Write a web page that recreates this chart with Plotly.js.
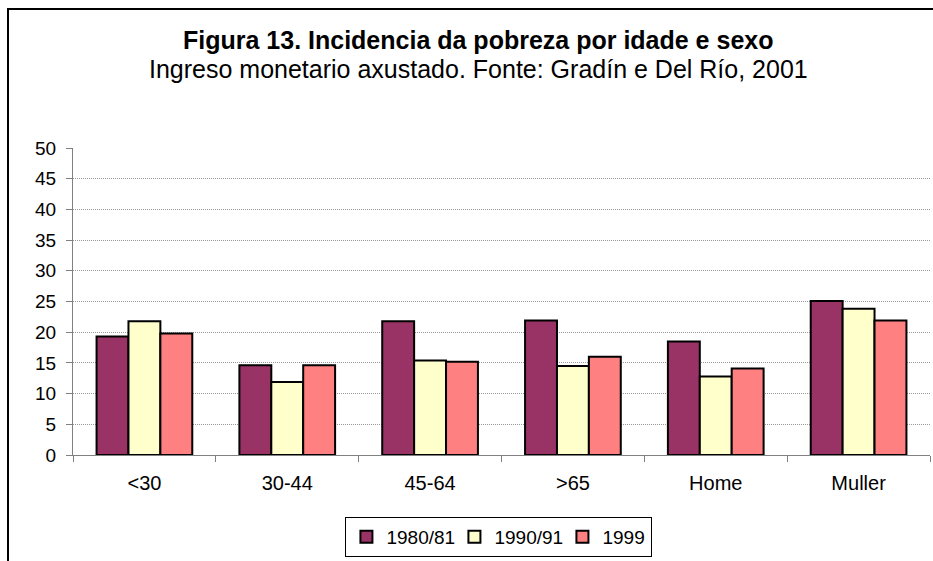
<!DOCTYPE html>
<html>
<head>
<meta charset="utf-8">
<script src="https://cdn.plot.ly/plotly-3.0.1.min.js"></script>
<style>
html,body{margin:0;padding:0;background:#fff;overflow:hidden;}
#chart{width:933px;height:561px;position:absolute;left:0;top:0;}
#frame{position:absolute;left:7px;top:8px;width:2000px;height:2000px;border-left:2px solid #000;border-top:2px solid #000;pointer-events:none;}
</style>
</head>
<body>
<div id="chart"></div>
<div id="frame"></div>
<script>
const categories = ['<30', '30-44', '45-64', '>65', 'Home', 'Muller'];
const seriesNames = ['1980/81', '1990/91', '1999'];
const v1980 = [19.3, 14.6, 21.8, 21.9, 18.5, 25.1];
const v1990 = [21.8, 11.9, 15.4, 14.5, 12.8, 23.8];
const v1999 = [19.8, 14.6, 15.2, 16.0, 14.1, 21.9];
const yTicks = [0, 5, 10, 15, 20, 25, 30, 35, 40, 45, 50];

const colors = ['#993366', '#FFFFCC', '#FF8080'];
const legendWidths = [63, 63, 44];
const values = [v1980, v1990, v1999];
const font = 'Arial, "Liberation Sans", sans-serif';

const traces = values.map((vals, i) => ({
  type: 'bar',
  name: seriesNames[i],
  x: categories,
  y: vals,
  legendwidth: legendWidths[i],
  marker: {color: colors[i], line: {color: '#000', width: 2}},
  hoverinfo: 'x+y+name'
}));

const layout = {
  width: 933, height: 561,
  margin: {l: 73, r: 3, t: 148, b: 106, autoexpand: false},
  paper_bgcolor: '#fff', plot_bgcolor: '#fff',
  barmode: 'group',
  bargap: 0.33,
  bargroupgap: 0,
  showlegend: true,
  font: {family: font, size: 20, color: '#000'},
  xaxis: {
    type: 'category',
    showline: true, linecolor: '#808080', linewidth: 1,
    ticks: 'outside', ticklen: 6, tickcolor: '#808080', tickson: 'boundaries',
    showgrid: false, zeroline: false,
    tickfont: {family: font, size: 20, color: '#000'},
    ticklabelstandoff: 10,
    automargin: false
  },
  yaxis: {
    range: [0, 50],
    tickvals: yTicks,
    ticktext: yTicks.map(String),
    showline: true, linecolor: '#808080', linewidth: 1,
    ticks: 'outside', ticklen: 6, tickcolor: '#808080',
    showgrid: true, gridcolor: '#999', griddash: '1px,1px', gridwidth: 1,
    zeroline: false,
    tickfont: {family: font, size: 19, color: '#000'},
    ticklabelstandoff: 6,
    automargin: false
  },
  legend: {
    orientation: 'h',
    x: 0.497, xanchor: 'center',
    y: -(517 - 455) / 307, yanchor: 'top',
    bordercolor: '#000', borderwidth: 1, bgcolor: '#fff',
    font: {family: font, size: 19, color: '#000'},
    itemwidth: 30,
    tracegroupgap: 0
  },
  annotations: [
    {text: '<b>Figura 13. Incidencia da pobreza por idade e sexo</b>', xref: 'paper', yref: 'paper',
     x: 0.4726, y: (455 - 40) / 307, xanchor: 'center', yanchor: 'middle', showarrow: false,
     font: {family: font, size: 25, color: '#000'}},
    {text: 'Ingreso monetario axustado. Fonte: Gradín e Del Río, 2001', xref: 'paper', yref: 'paper',
     x: 0.4726, y: (455 - 69) / 307, xanchor: 'center', yanchor: 'middle', showarrow: false,
     font: {family: font, size: 25, color: '#000'}}
  ]
};

Plotly.newPlot('chart', traces, layout, {displayModeBar: false, staticPlot: true});
</script>
</body>
</html>
